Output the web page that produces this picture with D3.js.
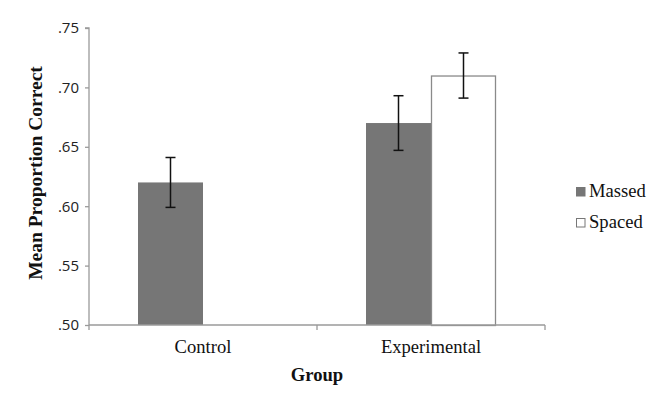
<!DOCTYPE html>
<html>
<head>
<meta charset="utf-8">
<script src="https://cdn.jsdelivr.net/npm/d3@7"></script>
<style>
  body { margin: 0; background: #fff; }
  svg { display: block; }
</style>
</head>
<body>
<svg id="chart" width="669" height="406"></svg>
<script>
const groups = ["Control", "Experimental"];
const conditions = ["Massed", "Spaced"];
const massedValues = [0.62, 0.67];
const spacedValues = [null, 0.71];
const massedErrors = [0.021, 0.023];
const spacedErrors = [null, 0.019];
const yTicks = [0.50, 0.55, 0.60, 0.65, 0.70, 0.75];
const yTickLabels = [".50", ".55", ".60", ".65", ".70", ".75"];
const colors = { Massed: "#767676", Spaced: "#ffffff" };

(function () {
const svg = d3.select("#chart");
const mLeft = 89, mRight = 545, mTop = 28, mBottom = 325;
const serif = "'Liberation Serif', 'Times New Roman', serif";

const x = d3.scaleBand().domain(groups).range([mLeft, mRight]).paddingInner(0).paddingOuter(0);
const xc = d3.scaleBand().domain(conditions).range([0, 130]);
const y = d3.scaleLinear().domain([0.50, 0.75]).range([mBottom, mTop]);

const data = [];
groups.forEach((g, i) => {
  if (massedValues[i] != null) data.push({ g, c: "Massed", v: massedValues[i], e: massedErrors[i] });
  if (spacedValues[i] != null) data.push({ g, c: "Spaced", v: spacedValues[i], e: spacedErrors[i] });
});
const bx = d => x(d.g) + x.bandwidth() / 2 - 65 + xc(d.c);

// bars
svg.append("g").selectAll("rect").data(data).join("rect")
  .attr("x", d => bx(d) + (d.c === "Spaced" ? 0.5 : 0))
  .attr("y", d => y(d.v) + (d.c === "Spaced" ? 0.5 : 0))
  .attr("width", d => xc.bandwidth() - (d.c === "Spaced" ? 1 : 0))
  .attr("height", d => y(0.50) - y(d.v))
  .attr("fill", d => colors[d.c])
  .attr("stroke", d => d.c === "Spaced" ? "#8a8a8a" : "none")
  .attr("stroke-width", 1.3);

// y axis
const yAxis = d3.axisLeft(y).tickValues(yTicks).tickFormat((d, i) => yTickLabels[i]).tickSize(4).tickPadding(6);
const gy = svg.append("g").attr("transform", `translate(${mLeft},0)`).call(yAxis);
gy.select(".domain").attr("stroke", "#9a9a9a").attr("stroke-width", 1.3).attr("d", `M-4,${mTop}H0V${mBottom}`);
gy.selectAll(".tick line").attr("stroke", "#9a9a9a").attr("stroke-width", 1.3);
gy.selectAll(".tick text").attr("font-family", "'Open Sans', sans-serif").attr("font-size", 15).attr("fill", "#222");

// x axis
const gx = svg.append("g").attr("transform", `translate(0,${mBottom})`);
gx.append("line").attr("x1", mLeft).attr("x2", mRight).attr("y1", 0).attr("y2", 0)
  .attr("stroke", "#9a9a9a").attr("stroke-width", 1.3);
const boundaries = [mLeft, x("Experimental"), mRight];
gx.selectAll("line.tk").data(boundaries).join("line").attr("class", "tk")
  .attr("x1", d => d).attr("x2", d => d).attr("y1", 0).attr("y2", 5)
  .attr("stroke", "#9a9a9a").attr("stroke-width", 1.3);
gx.selectAll("text").data(groups).join("text")
  .attr("x", d => x(d) + x.bandwidth() / 2)
  .attr("y", 28)
  .attr("text-anchor", "middle")
  .attr("font-family", serif)
  .attr("font-size", 18.6).attr("fill", "#111").text(d => d);

// error bars
const eb = svg.append("g").attr("stroke", "#111").attr("stroke-width", 1.5);
data.forEach(d => {
  const cx = bx(d) + xc.bandwidth() / 2;
  eb.append("line").attr("x1", cx).attr("x2", cx).attr("y1", y(d.v + d.e)).attr("y2", y(d.v - d.e));
  eb.append("line").attr("x1", cx - 5).attr("x2", cx + 5).attr("y1", y(d.v + d.e)).attr("y2", y(d.v + d.e));
  eb.append("line").attr("x1", cx - 5).attr("x2", cx + 5).attr("y1", y(d.v - d.e)).attr("y2", y(d.v - d.e));
});

// axis titles
svg.append("text").attr("x", (mLeft + mRight) / 2).attr("y", 381).attr("text-anchor", "middle")
  .attr("font-family", serif).attr("font-weight", "bold")
  .attr("font-size", 18.6).attr("fill", "#111").text("Group");
svg.append("text").attr("transform", `translate(42,173) rotate(-90)`)
  .attr("text-anchor", "middle")
  .attr("font-family", serif).attr("font-weight", "bold")
  .attr("font-size", 19.5).attr("fill", "#111").text("Mean Proportion Correct");

// legend
const lg = svg.append("g").attr("transform", "translate(576,187)");
conditions.forEach((c, i) => {
  const row = lg.append("g").attr("transform", `translate(0,${i * 31})`);
  row.append("rect").attr("x", 0.5).attr("y", 0.5).attr("width", 8.5).attr("height", 8.5)
    .attr("fill", colors[c]).attr("stroke", c === "Spaced" ? "#777" : "#767676").attr("stroke-width", 1);
  row.append("text").attr("x", 13).attr("y", 9.8)
    .attr("font-family", serif)
    .attr("font-size", 18.6).attr("fill", "#111").text(c);
});
})();
</script>
</body>
</html>
